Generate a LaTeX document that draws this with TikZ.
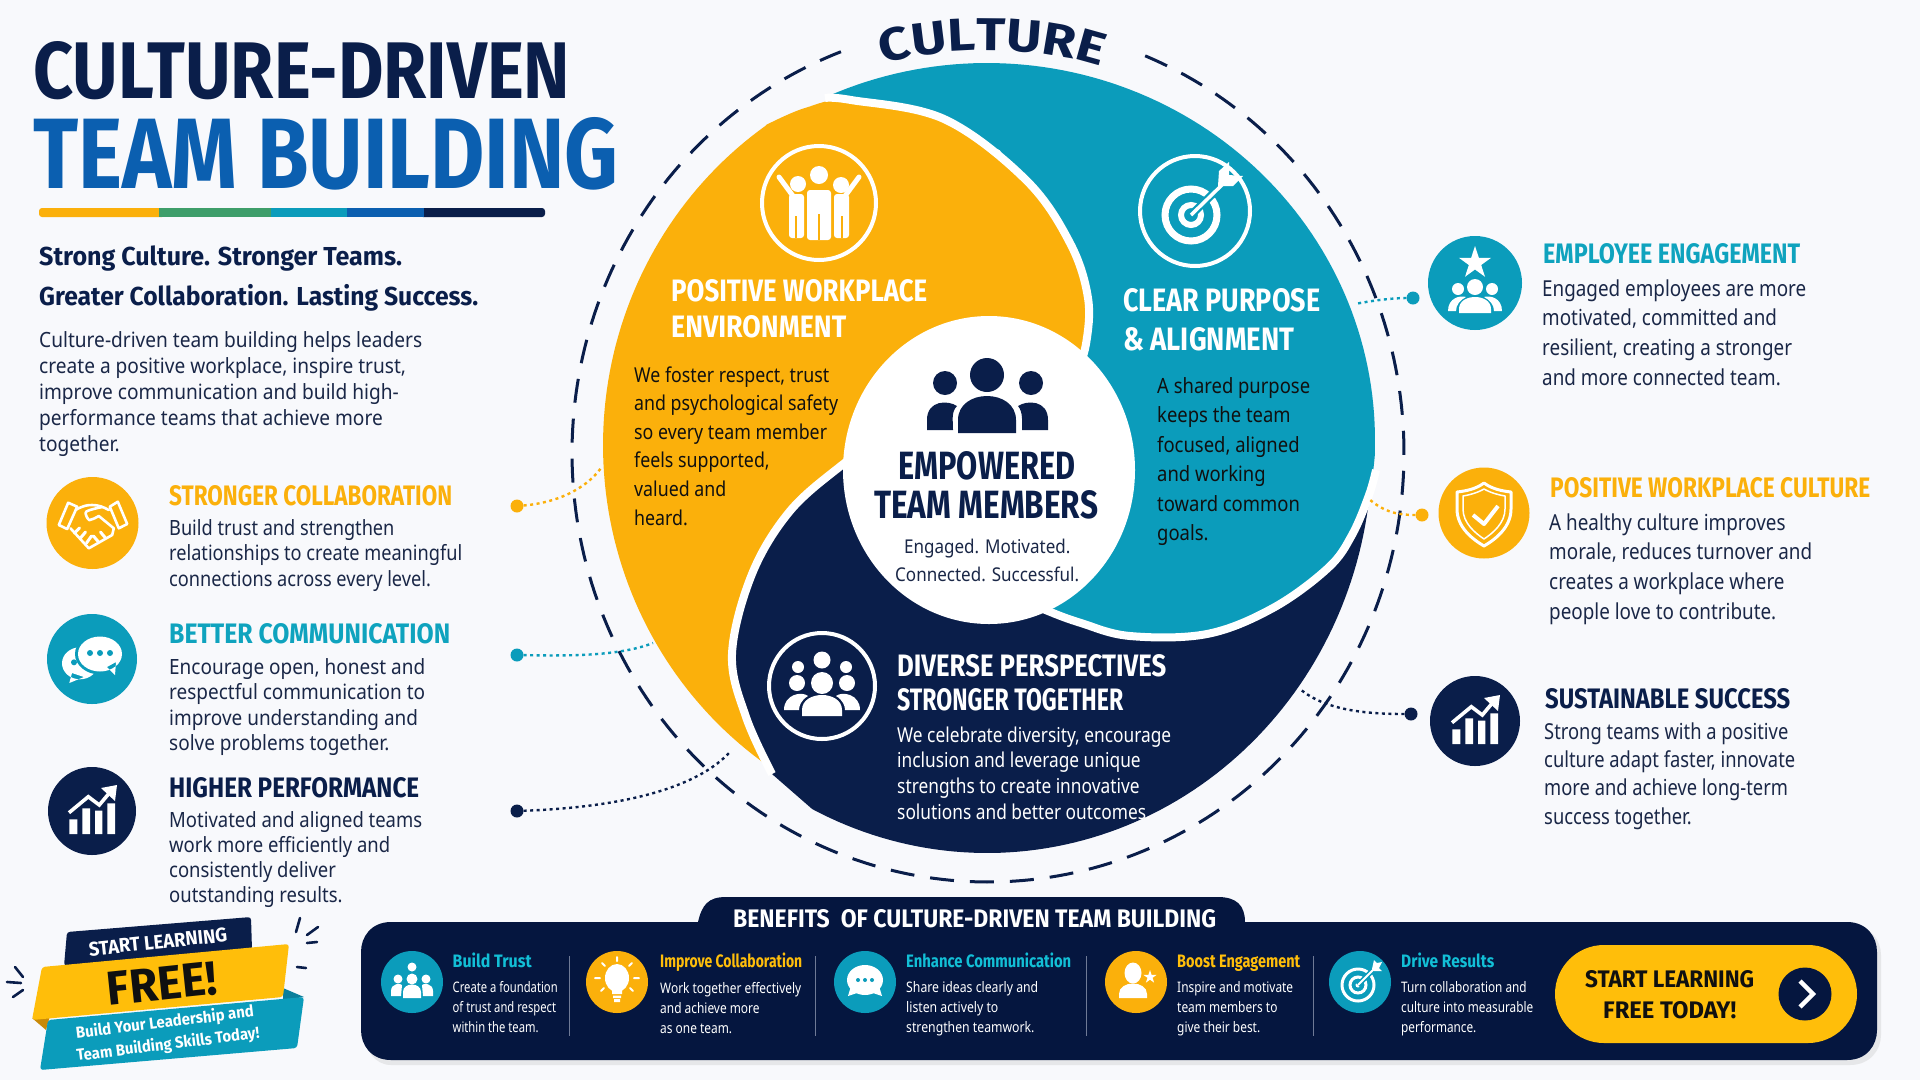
\documentclass[tikz,border=0pt]{standalone}
\usepackage{fontspec}
\usepackage{graphicx}
\usetikzlibrary{decorations.text}
\setmainfont{Noto Sans}
\newfontfamily\headf{Fira Sans}
\newfontfamily\culf[FakeStretch=1.18]{Fira Sans}
\newfontfamily\bodyf{Noto Sans}
\definecolor{bg}{HTML}{F8F9FC}
\definecolor{navyb}{HTML}{0A1E4A}
\definecolor{panel}{HTML}{05163F}
\definecolor{yel}{HTML}{FBB00B}
\definecolor{yelb}{HTML}{FFBE0A}
\definecolor{tealb}{HTML}{0B9CBB}
\definecolor{tealt}{HTML}{0FA3BE}
\definecolor{cyan}{HTML}{12BFD6}
\definecolor{blueb}{HTML}{0B5FB0}
\definecolor{greenb}{HTML}{3E9E6A}
\definecolor{ink}{HTML}{1A2747}
\definecolor{ink2}{HTML}{101010}
\definecolor{sep}{HTML}{6F7A96}
\definecolor{golddk}{HTML}{C98A08}
\definecolor{tealdk}{HTML}{0A7F9C}
% para{name}{x}{base}{size}{lead}{width}{colour}{lines}
\newcommand\para[8]{\node[anchor=base west,inner sep=0pt,text=#7] (#1) at (#2,#3) {\bodyf\fontsize{#4}{#5}\selectfont\resizebox{#6pt}{\height}{\begin{tabular}[t]{@{}l@{}}#8\end{tabular}}};}
% head{name}{x}{base}{width}{capheight}{colour}{text}
\newcommand\head[7]{\node[anchor=base west,inner sep=0pt,text=#6] (#1) at (#2,#3) {\resizebox{#4pt}{#5pt}{\headf\bfseries #7}};}
% hlw{name}{x}{base}{size}{width}{colour}{text}
\newcommand\hlw[7]{\node[anchor=base west,inner sep=0pt,text=#6] (#1) at (#2,#3) {\headf\bfseries\fontsize{#4}{#4}\selectfont\resizebox{#5pt}{\height}{#7}};}
\newcommand\mystar[3]{\fill[white,shift={(#1,#2)},scale=#3] (0,-1)--(.225,-.309)--(.951,-.309)--(.363,.118)--(.588,.809)--(0,.382)--(-.588,.809)--(-.363,.118)--(-.951,-.309)--(-.225,-.309)--cycle;}
\newcommand\chart[2]{\begin{scope}[shift={(#1,#2)}]
\fill[white] (-22.7,8.3) rectangle (-14.7,23) (-9.7,-2.7) rectangle (-2,23) (3,-.3) rectangle (10.3,23) (15.3,-7.7) rectangle (23,23);
\draw[white,line width=3.6pt] (-23,1.7)--(-3.7,-14.3)--(7.3,-6)--(19,-20);
\fill[white] (25,-26)--(9,-23)--(23,-10)--cycle;
\end{scope}}
\tikzset{
 x=1pt,y=-1pt,
 badge/.style={circle,inner sep=0pt,minimum size=#1},
 dot/.style={circle,inner sep=0pt,minimum size=13pt},
 link/.style={line width=2.4pt,dash pattern=on 3pt off 3.5pt},
 ring/.style={draw=white,line width=4pt,fill=none},
 gap/.style={draw=white,line width=8pt},
 spark/.style={navyb,line width=2.6pt,line cap=round},
}
\begin{document}
\begin{tikzpicture}
\useasboundingbox (0,0) rectangle (1920,1080);
\fill[bg] (0,0) rectangle (1920,1080);
% ---- title
\head{t1}{33}{98}{537}{57}{navyb}{CULTURE-DRIVEN}
\head{t2}{33}{188}{585}{71}{blueb}{TEAM BUILDING}
\fill[yel,rounded corners=3pt] (39,208) rectangle (165,217);
\fill[navyb,rounded corners=3pt] (420,208) rectangle (545,217);
\fill[yel] (44,208) rectangle (159,217);
\fill[greenb] (159,208) rectangle (271,217);
\fill[tealb] (271,208) rectangle (347,217);
\fill[blueb] (347,208) rectangle (424,217);
\hlw{tag1}{39}{265}{26}{363}{navyb}{Strong Culture. Stronger Teams.}
\hlw{tag2}{39}{305}{26}{439}{navyb}{Greater Collaboration. Lasting Success.}
\para{intro}{39}{347}{21}{26}{383}{ink}{Culture-driven team building helps leaders\\create a positive workplace, inspire trust,\\improve communication and build high-\\performance teams that achieve more\\together.}
% ---- swirl
\fill[navyb] plot[domain=8:117,samples=80] ({987+385*cos(\x)},{450+403*sin(\x)}) -- (772,774) -- plot[smooth,tension=.6] coordinates {(772,772)(746,717)(732,654)(752,574)(790,511)(842,465)} -- (989,470) -- (1200,560) -- cycle;
\fill[tealb] plot[domain=-114:2,samples=80] ({987+388*cos(\x)},{440+377*sin(\x)}) -- plot[smooth,tension=.6] coordinates {(1375,453)(1369,495)(1352,535)(1328,568)(1273,608)(1207,634)(1130,636)(1081,623)(1048,611)} -- (989,470) -- (1086,344) -- (1000,150) -- cycle;
\fill[yel] plot[domain=126:235,samples=80] ({985+382*cos(\x)},{445+390*sin(\x)}) -- plot[smooth,tension=.6] coordinates {(766,125)(805,108)(851,100)(944,119)(1026,180)(1070,243)(1088,298)(1086,344)} -- (989,470) -- (842,465) -- plot[smooth,tension=.6] coordinates {(842,465)(790,511)(752,574)(732,654)(746,717)(772,772)} -- cycle;
\draw[gap] plot[smooth,tension=.6] coordinates {(825,98)(851,100)(944,119)(1026,180)(1070,243)(1088,298)(1086,344)(1076,375)};
\draw[gap] plot[smooth,tension=.6] coordinates {(1376,470)(1369,495)(1352,535)(1328,568)(1273,608)(1207,634)(1130,636)(1081,623)(1048,611)(1020,598)};
\draw[gap] plot[smooth,tension=.6] coordinates {(772,774)(746,717)(732,654)(752,574)(790,511)(842,465)(868,448)};
\fill[white] (989,470) ellipse (146 and 154);
% dashed ring
\draw[navyb,line width=3pt,dash pattern=on 24pt off 16pt] plot[domain=-67.8:249.3,samples=260] ({988+416*cos(\x)},{453+429*sin(\x)});
\path[decorate,decoration={text along path,text align=center,text={|\culf\bfseries\fontsize{46}{46}\selectfont\color{navyb}|CULTURE}}] (870,68) .. controls (932,44) and (1052,44) .. (1114,72);
% centre
\fill[navyb] (987,375) circle (17) (945,383) circle (12) (1031,383) circle (12);
\fill[navyb] (958,433) -- (958,420) .. controls (958,388) and (1016,388) .. (1016,420) -- (1016,433) -- cycle;
\fill[navyb] (927,430) -- (927,420) .. controls (927,400) and (948,400) .. (957,406) .. controls (951,412) and (953,420) .. (953,430) -- cycle;
\fill[navyb] (1048,430) -- (1048,420) .. controls (1048,400) and (1027,400) .. (1018,406) .. controls (1023,412) and (1022,420) .. (1022,430) -- cycle;
\head{c1}{898}{479}{177}{28}{navyb}{EMPOWERED}
\head{c2}{874}{518}{224}{28}{navyb}{TEAM MEMBERS}
\para{c3}{895}{553.5}{19}{28}{184}{ink}{\hspace*{10pt}Engaged. Motivated.\\Connected. Successful.}
% yellow blade
\node[circle,ring,minimum size=114pt,inner sep=0pt] (ic1) at (819,203) {};
\fill[white] (798,184) circle (8) (819,175) circle (9) (841,185) circle (8);
\fill[white,rounded corners=3pt] (807,190) rectangle (831,240) (789,194) rectangle (804,238) (834,194) rectangle (849,238);
\draw[white,line width=5pt,line cap=round] (793,196)--(779,177) (845,196)--(859,177);
\draw[yel,line width=1.5pt] (819,214)--(819,240) (796,216)--(796,238) (842,216)--(842,238);
\head{y1}{671}{301}{256}{22}{white}{POSITIVE WORKPLACE}
\head{y2}{671}{337}{175}{22}{white}{ENVIRONMENT}
\para{y3}{634}{382}{20.5}{28.6}{204}{ink2}{We foster respect, trust\\and psychological safety\\so every team member\\feels supported,\\valued and\\heard.}
% teal blade
\node[circle,ring,minimum size=110pt,inner sep=0pt] (ic2) at (1195,211) {};
\draw[white,line width=7pt] (1191,215) circle (26);
\draw[white,line width=6pt] (1191,215) circle (10);
\draw[tealb,line width=8pt] (1191,215)--(1226,181);
\draw[white,line width=3.5pt] (1191,215)--(1226,181);
\fill[white] (1218,186)--(1219,171)--(1229,162)--(1229,175)--(1243,176)--(1233,186)--cycle;
\head{b1}{1123}{311}{197}{23}{white}{CLEAR PURPOSE}
\head{b2}{1123}{350}{171}{23}{white}{\&\ ALIGNMENT}
\para{b3}{1157}{393}{21}{29.5}{153}{ink2}{A shared purpose\\keeps the team\\focused, aligned\\and working\\toward common\\goals.}
% navy blade
\node[circle,ring,minimum size=106pt,inner sep=0pt] (ic3) at (822,686) {};
\begin{scope}[shift={(822,686)}]
\fill[white] (0,-26) circle (8.5) (-24,-19) circle (6) (24,-19) circle (6) (-25,-3) circle (8) (25,-3) circle (8) (0,-3) circle (11);
\fill[white] (-20,30) -- (-20,24) .. controls (-20,4) and (20,4) .. (20,24) -- (20,30) -- cycle;
\fill[white] (-38,24) .. controls (-38,8) and (-20,5) .. (-14,10) .. controls (-21,14) and (-23,20) .. (-23,24) -- cycle;
\fill[white] (38,24) .. controls (38,8) and (20,5) .. (14,10) .. controls (21,14) and (23,20) .. (23,24) -- cycle;
\end{scope}
\head{n1}{897}{676}{269}{22}{white}{DIVERSE PERSPECTIVES}
\head{n2}{897}{710}{226}{22}{white}{STRONGER TOGETHER}
\para{n3}{897}{742}{20.5}{25.7}{274}{white}{We celebrate diversity, encourage\\inclusion and leverage unique\\strengths to create innovative\\solutions and better outcomes.}
% ---- left column
\node[badge=92pt,fill=yel] (l1) at (92.5,523) {};
\begin{scope}[shift={(92.5,523)},white,line width=2.6pt,line join=round,line cap=round]
\draw (-24.3,-20.3)--(-15.3,-16.3)--(-25.3,6)--(-33.7,2)--cycle (25.3,-21.3)--(34.7,1)--(26.3,5.3)--(17.3,-16.3)--cycle;
\draw (-17,-13) .. controls (-10,-17) and (-6,-18) .. (-.3,-18) .. controls (6,-18) and (11,-16) .. (16.3,-13);
\draw (-22,5.3)--(-3.7,25.3)--(19.7,12)--(21.3,5.3);
\draw (9.7,-16) .. controls (0,-14) and (-8,-12) .. (-7,-9.7) .. controls (-6,-5) and (-3,-2) .. (-2.7,-3) .. controls (1,-3) and (3,-6) .. (6.3,-7)--(21.3,5.3);
\draw[line width=3pt] (-18,10)--(-13,5) (-12,15)--(-7,9) (-6,20)--(-1,13) (6,19)--(1,13) (13,15)--(8,9);
\end{scope}
\head{lh1}{169}{505}{283}{20}{yel}{STRONGER COLLABORATION}
\para{lb1}{169}{535}{21}{25.7}{293}{ink}{Build trust and strengthen\\relationships to create meaningful\\connections across every level.}
\node[badge=90pt,fill=tealb] (l2) at (92,659) {};
\begin{scope}[shift={(92,659)}]
\fill[white] (-12,4.3) ellipse (18 and 16) (-20,14)--(-22.7,24)--(-8,18)--cycle;
\fill[tealb] (8,-5) ellipse (25 and 20.5);
\fill[white] (8,-5) ellipse (22 and 17.5) (15,8)--(23,16)--(24,3)--cycle;
\fill[tealb] (-2,-6) circle (3) (8,-6) circle (3) (18,-6) circle (3) (-18,3.3) circle (3);
\end{scope}
\head{lh2}{169}{643}{281}{20}{tealt}{BETTER COMMUNICATION}
\para{lb2}{169}{674}{21}{25.6}{256}{ink}{Encourage open, honest and\\respectful communication to\\improve understanding and\\solve problems together.}
\node[badge=88pt,fill=navyb] (l3) at (92,811) {};
\chart{92}{811}
\head{lh3}{169}{797}{250}{20}{navyb}{HIGHER PERFORMANCE}
\para{lb3}{169}{827}{21}{25}{253}{ink}{Motivated and aligned teams\\work more efficiently and\\consistently deliver\\outstanding results.}
% ---- left connectors
\node[dot,fill=yel] (d1) at (517,506) {};
\node[dot,fill=tealb] (d2) at (517,655) {};
\node[dot,fill=navyb] (d3) at (517,811) {};
\coordinate (e1) at (601,468);
\coordinate (e2) at (653,643);
\coordinate (e3) at (730,752);
\draw[link,yel] (d1) .. controls (555,503) and (585,490) .. (e1);
\draw[link,tealb] (d2) .. controls (570,656) and (620,656) .. (e2);
\draw[link,navyb] (d3) .. controls (600,808) and (690,795) .. (e3);
% ---- right column
\node[badge=94pt,fill=tealb] (r1) at (1475,283) {};
\mystar{1475}{263}{17}
\begin{scope}[shift={(1475,283)}]
\fill[white] (-17,6) circle (6) (0,4) circle (8) (17,6) circle (6);
\fill[white] (-16,30) -- (-16,26) .. controls (-16,10) and (16,10) .. (16,26) -- (16,30) -- cycle;
\fill[white] (-27,28) .. controls (-27,15) and (-15,12) .. (-9,14) .. controls (-15,17) and (-19,22) .. (-19,28) -- cycle;
\fill[white] (27,28) .. controls (27,15) and (15,12) .. (9,14) .. controls (15,17) and (19,22) .. (19,28) -- cycle;
\end{scope}
\head{rh1}{1543}{263}{257}{20}{tealt}{EMPLOYEE ENGAGEMENT}
\para{rb1}{1542}{296}{22}{29.8}{264}{ink}{Engaged employees are more\\motivated, committed and\\resilient, creating a stronger\\and more connected team.}
\node[badge=91pt,fill=yel] (r2) at (1484,513) {};
\begin{scope}[shift={(1484,513)},white,line join=round]
\draw[line width=3pt] (0,-30) .. controls (-8,-24) and (-18,-22) .. (-27,-21) -- (-27,-4) .. controls (-27,14) and (-12,26) .. (0,33) .. controls (12,26) and (27,14) .. (27,-4) -- (27,-21) .. controls (18,-22) and (8,-24) .. (0,-30) -- cycle;
\draw[line width=1.5pt] (0,-24) .. controls (-7,-20) and (-15,-18) .. (-21,-17) -- (-21,-4) .. controls (-21,10) and (-9,20) .. (0,26) .. controls (9,20) and (21,10) .. (21,-4) -- (21,-17) .. controls (15,-18) and (7,-20) .. (0,-24) -- cycle;
\draw[line width=4pt] (-11,2)--(0,11)--(14,-7);
\end{scope}
\head{rh2}{1550}{497}{320}{20}{yel}{POSITIVE WORKPLACE CULTURE}
\para{rb2}{1549}{530}{22}{29.7}{263}{ink}{A healthy culture improves\\morale, reduces turnover and\\creates a workplace where\\people love to contribute.}
\node[badge=90pt,fill=navyb] (r3) at (1475,721) {};
\chart{1475}{721}
\head{rh3}{1545}{708}{245}{20}{navyb}{SUSTAINABLE SUCCESS}
\para{rb3}{1544}{739}{22}{28.4}{251}{ink}{Strong teams with a positive\\culture adapt faster, innovate\\more and achieve long-term\\success together.}
\node[dot,fill=tealb] (d4) at (1413,298) {};
\node[dot,fill=yel] (d5) at (1422,515) {};
\node[dot,fill=navyb] (d6) at (1411,714) {};
\coordinate (e4) at (1355,304);
\coordinate (e5) at (1369,499);
\coordinate (e6) at (1300,689);
\draw[link,tealb] (d4) .. controls (1395,298) and (1375,300) .. (e4);
\draw[link,yel] (d5) .. controls (1400,515) and (1385,513) .. (e5);
\draw[link,navyb] (d6) .. controls (1365,714) and (1325,710) .. (e6);
% ---- bottom panel
\path[fill=black!22,opacity=.35] (391,925) -- (698,925) .. controls (702,908) and (708,900) .. (726,900) -- (1220,900) .. controls (1236,900) and (1245,908) .. (1245,925) -- (1850,925) .. controls (1870,925) and (1881,940) .. (1881,955) -- (1881,1035) .. controls (1881,1050) and (1870,1065) .. (1850,1065) -- (391,1065) .. controls (375,1065) and (365,1050) .. (365,1035) -- (365,955) .. controls (365,940) and (375,925) .. (391,925) -- cycle;
\path[fill=panel] (391,922) -- (698,922) .. controls (702,905) and (708,897) .. (726,897) -- (1218,897) .. controls (1236,897) and (1245,905) .. (1245,922) -- (1847,922) .. controls (1867,922) and (1877,937) .. (1877,952) -- (1877,1030) .. controls (1877,1045) and (1867,1060) .. (1847,1060) -- (391,1060) .. controls (371,1060) and (361,1045) .. (361,1030) -- (361,952) .. controls (361,937) and (371,922) .. (391,922) -- cycle;
\head{tab}{733}{927}{483}{18}{white}{BENEFITS\ \ OF CULTURE-DRIVEN TEAM BUILDING}
\draw[sep,line width=1pt] (569.5,956)--(569.5,1036) (815.7,956)--(815.7,1036) (1086,956)--(1086,1036) (1313,956)--(1313,1036);
% b1
\node[badge=62pt,fill=tealb] (s1) at (412,982) {};
\begin{scope}[shift={(412,982)}]
\fill[white] (0,-15) circle (4.5) (-14,-3) circle (4.5) (14,-3) circle (4.5) (0,-3) circle (5.5);
\fill[white] (-9,16) -- (-9,10) .. controls (-9,0) and (9,0) .. (9,10) -- (9,16) -- cycle;
\fill[white] (-21,14) -- (-21,9) .. controls (-21,1) and (-11,1) .. (-10,3) -- (-11,14) -- cycle;
\fill[white] (21,14) -- (21,9) .. controls (21,1) and (11,1) .. (10,3) -- (11,14) -- cycle;
\end{scope}
\hlw{st1}{452.5}{967}{18}{79}{cyan}{Build Trust}
\para{sb1}{452.5}{992}{14.5}{20}{105}{white}{Create a foundation\\of trust and respect\\within the team.}
% b2
\node[badge=62pt,fill=yel] (s2) at (617,982) {};
\begin{scope}[shift={(617,982)}]
\fill[white] (0,-4) ellipse (12 and 14);
\fill[white] (-5,8) rectangle (5,12) (-4,13.5) rectangle (4,16) (-3,17) rectangle (3,20);
\draw[white,line width=2pt,line cap=round] (-22,-4)--(-17,-4) (22,-4)--(17,-4) (0,-25)--(0,-21) (-15,-19)--(-12,-16) (15,-19)--(12,-16) (-16,9)--(-13,6) (16,9)--(13,6);
\end{scope}
\hlw{st2}{660}{967}{18}{142}{yelb}{Improve Collaboration}
\para{sb2}{660}{993}{14.5}{20.2}{141}{white}{Work together effectively\\and achieve more\\as one team.}
% b3
\node[badge=62pt,fill=tealb] (s3) at (865,982) {};
\begin{scope}[shift={(865,982)}]
\fill[white] (0,-2) ellipse (18 and 15);
\fill[white] (-14,4)--(-17,14)--(-5,10)--cycle (14,4)--(17,14)--(5,10)--cycle;
\fill[tealb] (-7,-2) circle (2) (0,-2) circle (2) (7,-2) circle (2);
\end{scope}
\hlw{st3}{906}{967}{18}{165}{cyan}{Enhance Communication}
\para{sb3}{906}{992}{14.5}{20}{132}{white}{Share ideas clearly and\\listen actively to\\strengthen teamwork.}
% b4
\node[badge=62pt,fill=yel] (s4) at (1136,982) {};
\fill[white] (1133,973) ellipse (8.5 and 10.5);
\fill[white] (1119,998) -- (1119,994) .. controls (1119,980) and (1147,980) .. (1147,994) -- (1147,998) -- cycle;
\mystar{1150}{977}{7}
\hlw{st4}{1177}{967}{18}{123}{yelb}{Boost Engagement}
\para{sb4}{1177}{992}{14.5}{20}{116}{white}{Inspire and motivate\\team members to\\give their best.}
% b5
\node[badge=62pt,fill=tealb] (s5) at (1360,982) {};
\begin{scope}[shift={(1360,982)}]
\draw[white,line width=3pt] (-2,3) circle (16);
\draw[white,line width=3pt] (-2,3) circle (8);
\fill[white] (-2,3) circle (2.5);
\draw[tealb,line width=5pt] (-2,3)--(16,-15);
\draw[white,line width=2pt] (-2,3)--(16,-15);
\fill[white] (12,-13)--(14,-22)--(17,-19)--(22,-20)--(19,-14)--(22,-11)--(14,-11)--cycle;
\end{scope}
\hlw{st5}{1401}{967}{18}{93}{cyan}{Drive Results}
\para{sb5}{1401}{992}{14.5}{20}{132}{white}{Turn collaboration and\\culture into measurable\\performance.}
% button
\node[fill=yelb,rounded corners=49pt,minimum width=302pt,minimum height=98pt,inner sep=0pt] (btn) at (1706,994) {};
\head{bt1}{1585}{987}{169}{17}{ink2}{START LEARNING}
\head{bt2}{1603}{1018}{133}{17}{ink2}{FREE TODAY!}
\node[badge=53pt,fill=panel] (go) at (1805,994) {};
\draw[white,line width=4.5pt,line join=miter] (1800,981)--(1813,994)--(1800,1007);
% ---- promo badge
\fill[navyb,rounded corners=3pt] (67,932)--(251,917)--(252,950)--(64,966)--cycle;
\node[rotate=6,inner sep=0pt,text=white] (pr1) at (158,942) {\resizebox{139pt}{14pt}{\headf\bfseries START LEARNING}};
\fill[golddk] (32,1018)--(46,1030)--(50,1016)--cycle;
\fill[tealdk] (283,988)--(304,997)--(283,1000)--cycle;
\fill[tealb,rounded corners=3pt] (48,1020)--(304,997)--(297,1048)--(40,1070)--cycle;
\fill[yelb,rounded corners=3pt] (42,967)--(289,944)--(283,997)--(32,1020)--cycle;
\node[rotate=6,inner sep=0pt,text=ink2] (pr2) at (162,984) {\resizebox{110pt}{33pt}{\headf\bfseries FREE!}};
\node[rotate=7,inner sep=0pt,text=white] (pr3) at (165,1023) {\headf\bfseries\fontsize{16}{16}\selectfont\resizebox{179pt}{\height}{Build Your Leadership and}};
\node[rotate=7,inner sep=0pt,text=white] (pr4) at (168,1045) {\headf\bfseries\fontsize{16}{16}\selectfont\resizebox{184pt}{\height}{Team Building Skills Today!}};
\draw[spark] (300,918)--(296,932) (318,927)--(307,935) (317,942)--(307,943) (306,968)--(297,967) (15,967)--(23,977) (7,982)--(21,983) (23,990)--(13,997);
\end{tikzpicture}
\end{document}
